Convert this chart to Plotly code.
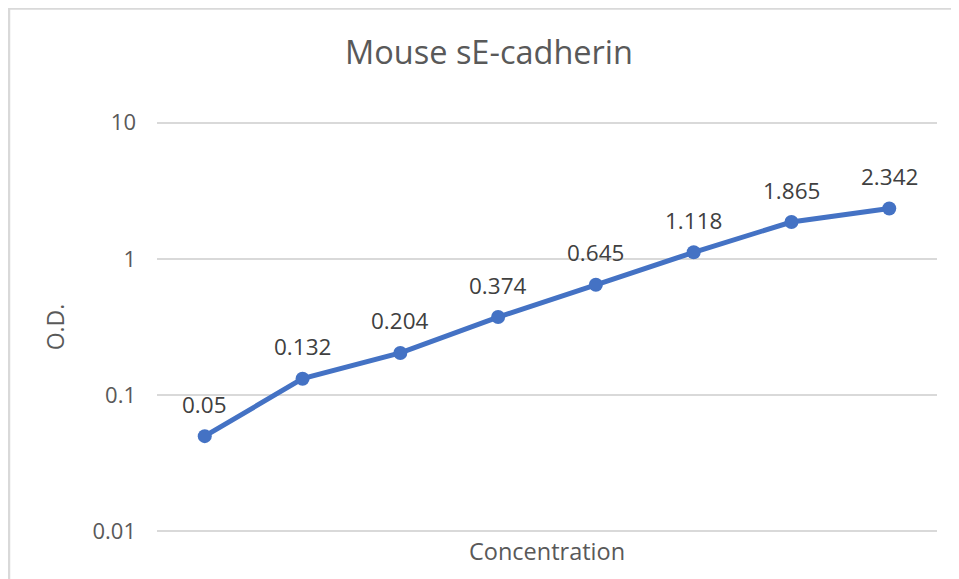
import math
import plotly.graph_objects as go

categories = ["C1", "C2", "C3", "C4", "C5", "C6", "C7", "C8"]
od_values = [0.05, 0.132, 0.204, 0.374, 0.645, 1.118, 1.865, 2.342]
od_labels = ["0.05", "0.132", "0.204", "0.374", "0.645", "1.118", "1.865", "2.342"]
y_tickvals = [0.01, 0.1, 1, 10]
y_ticktext = ["0.01", "0.1", "1", "10"]

W, H = 959, 579
OFF = 8  # page body margin
PAD = 0.012  # decades of padding so edge gridlines are drawn
pad_px = 408 / 3 * PAD
L, R = 157 - OFF, 22 + OFF
T, B = 123 - OFF - pad_px, 48 + OFF - pad_px
pw, ph = W - L - R, H - T - B

font_family = "Segoe UI, Open Sans, Liberation Sans, sans-serif"
grey = "#595959"
grid = "#d9d9d9"

fig = go.Figure()
fig.add_trace(go.Scatter(
    x=categories, y=od_values, mode="lines+markers",
    line=dict(color="#4472C4", width=5),
    marker=dict(color="#4472C4", size=14),
    hoverinfo="skip", showlegend=False,
))

for c, v, t in zip(categories, od_values, od_labels):
    fig.add_annotation(x=c, y=math.log10(v), yref="y", text=t, showarrow=False,
                       yshift=32, font=dict(family=font_family, size=22.5, color="#404040"))

def px_x(p):
    return (p - L) / pw

def px_y(p):
    return 1 - (p - T) / ph

# chart area border (left and top)
fig.add_shape(type="line", xref="paper", yref="paper",
              x0=px_x(1), x1=px_x(1), y0=px_y(0), y1=px_y(600),
              line=dict(color=grid, width=2.5))
fig.add_shape(type="line", xref="paper", yref="paper",
              x0=px_x(0), x1=px_x(980), y0=px_y(1), y1=px_y(1),
              line=dict(color=grid, width=2.5))

fig.update_layout(
    width=W, height=H,
    margin=dict(l=L, r=R, t=T, b=B, autoexpand=False),
    paper_bgcolor="white", plot_bgcolor="white",
    font=dict(family=font_family, color=grey),
    title=dict(text="Mouse sE-cadherin", x=(489 - OFF) / W, xref="container", xanchor="center",
               y=1 - (53 - OFF) / H, yref="container", yanchor="middle",
               font=dict(size=32.5, color=grey, family=font_family)),
    xaxis=dict(type="category", showticklabels=False, showgrid=False, zeroline=False,
               showline=False, ticks="",
               title=dict(text="Concentration", standoff=10,
                          font=dict(size=23.5, color=grey, family=font_family))),
    yaxis=dict(type="log", range=[-2 - PAD, 1 + PAD], tickvals=y_tickvals, ticktext=y_ticktext,
               showgrid=True, gridcolor=grid, gridwidth=1.8, zeroline=False, showline=False,
               ticks="", ticklabelstandoff=20,
               tickfont=dict(size=22, color=grey, family=font_family),
               title=dict(text="O.D.", standoff=21,
                          font=dict(size=23, color=grey, family=font_family))),
)

fig.write_html("out.html")
